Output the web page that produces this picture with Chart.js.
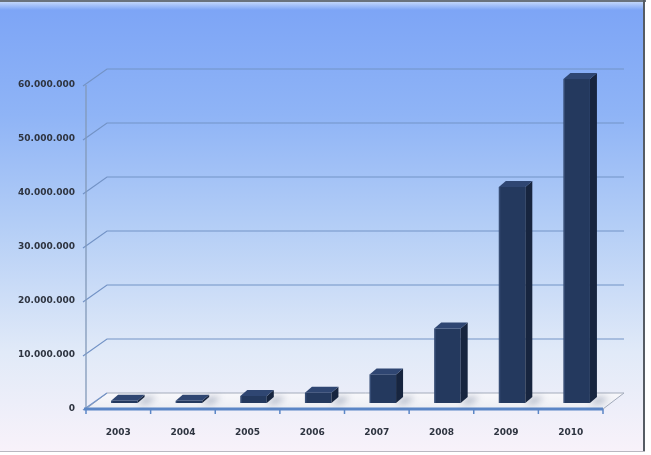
<!DOCTYPE html>
<html><head><meta charset="utf-8">
<script src="https://cdn.jsdelivr.net/npm/chart.js@4"></script>
<style>html,body{margin:0;padding:0;background:#fff;overflow:hidden}canvas{display:block}</style>
</head><body>
<canvas id="c" width="651" height="455"></canvas>
<script>
// ---- data ----
const years = ['2003', '2004', '2005', '2006', '2007', '2008', '2009', '2010'];
const values = [400000, 400000, 1300000, 1900000, 5300000, 13800000, 40000000, 60000000];
const yTickLabels = ['0', '10.000.000', '20.000.000', '30.000.000', '40.000.000', '50.000.000', '60.000.000'];
const yMax = 60000000;
const yStep = 10000000;

// ---- 3D look ----
const DEPTH = {x: 21, y: -16};
const BAR_OFF = {x: 6, y: -6};
const BAR_DEPTH = {x: 7, y: -6};

function poly(ctx, pts, fill, stroke, lw) {
  ctx.beginPath();
  ctx.moveTo(pts[0][0], pts[0][1]);
  for (let i = 1; i < pts.length; i++) ctx.lineTo(pts[i][0], pts[i][1]);
  ctx.closePath();
  if (fill) { ctx.fillStyle = fill; ctx.fill(); }
  if (stroke) { ctx.strokeStyle = stroke; ctx.lineWidth = lw || 1; ctx.stroke(); }
}

const threeD = {
  id: 'threeD',
  beforeDraw(chart) {
    const ctx = chart.ctx;
    const W = chart.width, H = chart.height;
    ctx.save();
    ctx.fillStyle = '#ffffff';
    ctx.fillRect(0, 0, W, H);
    const g = ctx.createLinearGradient(0, 3, 0, 451);
    g.addColorStop(0, '#7ca4f6');
    g.addColorStop(0.25, '#8fb4f6');
    g.addColorStop(0.5, '#b4cef6');
    g.addColorStop(0.78, '#e1eaf8');
    g.addColorStop(1, '#f8f2fa');
    ctx.fillStyle = g;
    ctx.fillRect(0, 2, 644, 449);
    const band = ctx.createLinearGradient(0, 2, 0, 10);
    band.addColorStop(0, 'rgba(200,220,250,0.9)');
    band.addColorStop(1, 'rgba(200,220,250,0)');
    ctx.fillStyle = band;
    ctx.fillRect(0, 2, 644, 8);
    ctx.fillStyle = '#6a737c';
    ctx.fillRect(0, 0, 646, 2);
    ctx.fillStyle = '#565c64';
    ctx.fillRect(643, 0, 2, 452);
    ctx.fillStyle = '#b9b7c0';
    ctx.fillRect(0, 451, 645, 1);
    ctx.restore();
  },
  beforeDatasetsDraw(chart) {
    const ctx = chart.ctx;
    const a = chart.chartArea;
    const ys = chart.scales.y, xs = chart.scales.x;
    ctx.save();
    const y0 = ys.getPixelForValue(0);
    const fg = ctx.createLinearGradient(0, y0 + DEPTH.y, 0, y0);
    fg.addColorStop(0, '#f8f8fb');
    fg.addColorStop(1, '#eceef3');
    poly(ctx, [[a.left, y0], [a.right, y0], [a.right + DEPTH.x, y0 + DEPTH.y], [a.left + DEPTH.x, y0 + DEPTH.y]], fg, '#a3abbb', 1);
    ctx.lineWidth = 1.2;
    ctx.strokeStyle = '#7393c6';
    for (let v = yStep; v <= yMax; v += yStep) {
      const y = ys.getPixelForValue(v);
      ctx.beginPath();
      ctx.moveTo(a.left - 3, y + 1);
      ctx.lineTo(a.left + DEPTH.x, y + DEPTH.y);
      ctx.lineTo(a.right + DEPTH.x, y + DEPTH.y);
      ctx.stroke();
    }
    ctx.beginPath();
    ctx.moveTo(a.left - 3, y0 + 1);
    ctx.lineTo(a.left + DEPTH.x, y0 + DEPTH.y);
    ctx.stroke();
    ctx.strokeStyle = '#8299b8';
    ctx.lineWidth = 1.3;
    ctx.beginPath();
    ctx.moveTo(a.left, ys.getPixelForValue(yMax));
    ctx.lineTo(a.left, y0);
    ctx.stroke();
    ctx.strokeStyle = '#5b86c6';
    ctx.lineWidth = 3;
    ctx.beginPath();
    ctx.moveTo(a.left - 2, y0);
    ctx.lineTo(a.right, y0);
    ctx.stroke();
    const half = (xs.getPixelForValue(1) - xs.getPixelForValue(0)) / 2;
    ctx.lineWidth = 1.5;
    for (let i = 0; i <= years.length; i++) {
      const x = xs.getPixelForValue(0) - half + i * 2 * half;
      ctx.beginPath();
      ctx.moveTo(x, y0);
      ctx.lineTo(x, y0 + 5);
      ctx.stroke();
    }
    const meta = chart.getDatasetMeta(0);
    ctx.filter = 'blur(3px)';
    meta.data.forEach(bar => {
      const p = bar.getProps(['x', 'base', 'width'], true);
      const r = p.x + p.width / 2 + BAR_OFF.x;
      const b = p.base + BAR_OFF.y;
      poly(ctx, [[r, b + 1], [r + BAR_DEPTH.x, b + BAR_DEPTH.y], [r + BAR_DEPTH.x + 12, b + BAR_DEPTH.y], [r + 10, b + 1]], 'rgba(70,85,120,0.35)');
    });
    ctx.filter = 'none';
    ctx.restore();
    ctx.save();
    ctx.translate(BAR_OFF.x, BAR_OFF.y);
  },
  afterDatasetsDraw(chart) {
    const ctx = chart.ctx;
    ctx.restore();
    ctx.save();
    const meta = chart.getDatasetMeta(0);
    meta.data.forEach(bar => {
      const p = bar.getProps(['x', 'y', 'base', 'width'], true);
      const l = p.x - p.width / 2 + BAR_OFF.x;
      const r = p.x + p.width / 2 + BAR_OFF.x;
      const t = p.y + BAR_OFF.y;
      const b = p.base + BAR_OFF.y;
      poly(ctx, [[r, t], [r + BAR_DEPTH.x, t + BAR_DEPTH.y], [r + BAR_DEPTH.x, b + BAR_DEPTH.y], [r, b]], '#17253f');
      poly(ctx, [[l, t], [l + BAR_DEPTH.x, t + BAR_DEPTH.y], [r + BAR_DEPTH.x, t + BAR_DEPTH.y], [r, t]], '#2f4672');
      ctx.fillStyle = 'rgba(90,115,160,0.35)';
      ctx.fillRect(l, t, 1.5, b - t);
    });
    ctx.restore();
  }
};

new Chart(document.getElementById('c'), {
  type: 'bar',
  data: {
    labels: years,
    datasets: [{
      data: values,
      backgroundColor: '#24395e',
      borderWidth: 0,
      categoryPercentage: 1,
      barPercentage: 0.41,
      clip: false
    }]
  },
  options: {
    responsive: false,
    animation: false,
    events: [],
    layout: {padding: {top: 85, right: 48, left: 0, bottom: 0}},
    plugins: {legend: {display: false}, tooltip: {enabled: false}, title: {display: false}},
    scales: {
      x: {
        grid: {display: false, drawTicks: false},
        border: {display: false},
        ticks: {
          color: '#2e3440',
          font: {family: 'DejaVu Sans', size: 9, weight: 'bold'},
          padding: 18,
          maxRotation: 0
        },
        afterFit(s) { s.height = 46; }
      },
      y: {
        min: 0,
        max: yMax,
        grid: {display: false, drawTicks: false},
        border: {display: false},
        ticks: {
          stepSize: yStep,
          color: '#2e3440',
          font: {family: 'DejaVu Sans', size: 9, weight: 'bold'},
          padding: 11,
          callback: (v, i) => yTickLabels[i]
        },
        afterFit(s) { s.width = 86; }
      }
    }
  },
  plugins: [threeD]
});
</script>
</body></html>
